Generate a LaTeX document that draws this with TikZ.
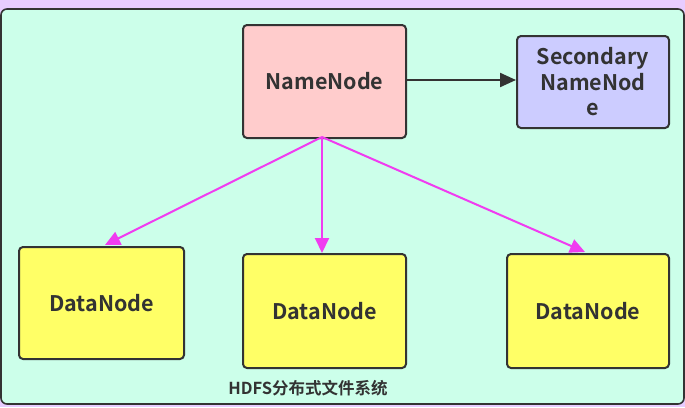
\documentclass[tikz,border=0pt]{standalone}
\usepackage{fontspec}
\setmainfont{Noto Sans CJK SC}[BoldFont={Noto Sans CJK SC Bold}]
\usetikzlibrary{arrows.meta}
\definecolor{bgpurple}{HTML}{E8CCFF}
\definecolor{mint}{HTML}{CCFFEA}
\definecolor{pinkfill}{HTML}{FFCCCC}
\definecolor{lavfill}{HTML}{CCCCFF}
\definecolor{yellowfill}{HTML}{FFFF66}
\definecolor{edge}{HTML}{333333}
\definecolor{magentaline}{HTML}{F03CF0}
\tikzset{
  box/.style={draw=edge, line width=2pt, rounded corners=4pt, align=center,
    font=\bfseries\fontsize{21.5}{25}\selectfont, text=edge, anchor=north west, inner sep=0pt},
  magarrow/.style={draw=magentaline, line width=2pt, -{Triangle[length=15pt,width=14pt]}},
  darkarrow/.style={draw=edge, line width=2.2pt, -{Triangle[length=16pt,width=14pt]}}
}
\begin{document}
\begin{tikzpicture}[x=1pt,y=-1pt]
\useasboundingbox (0,0) rectangle (685,407);
\fill[bgpurple] (0,0) rectangle (685,407);
\draw[draw=edge, fill=mint, line width=1.6pt, rounded corners=6pt] (1,9) rectangle (684,404);
\node[box, fill=pinkfill, minimum width=163pt, minimum height=113pt] (nn) at (242,24) {NameNode};
\node[box, fill=lavfill, minimum width=152pt, minimum height=92pt, font=\bfseries\fontsize{21.5}{25.5}\selectfont] (snn) at (516,35) {Secondary\\NameNod\\e};
\node[box, fill=yellowfill, minimum width=165pt, minimum height=112pt] (dn1) at (18,246) {DataNode};
\node[box, fill=yellowfill, minimum width=163pt, minimum height=114pt] (dn2) at (242,253) {DataNode};
\node[box, fill=yellowfill, minimum width=162pt, minimum height=114pt] (dn3) at (506,253) {DataNode};
\node[font=\bfseries\fontsize{16.5}{19}\selectfont, text=edge, inner sep=0pt] (title) at (308,388) {HDFS分布式文件系统};
\coordinate (src) at (322,137);
\draw[darkarrow] (nn.east |- 0,80) -- (snn.west |- 0,80);
\draw[magarrow] (src) -- (105,245);
\draw[magarrow] (src) -- (dn2.north -| src);
\draw[magarrow] (src) -- (585,252);
\end{tikzpicture}
\end{document}
